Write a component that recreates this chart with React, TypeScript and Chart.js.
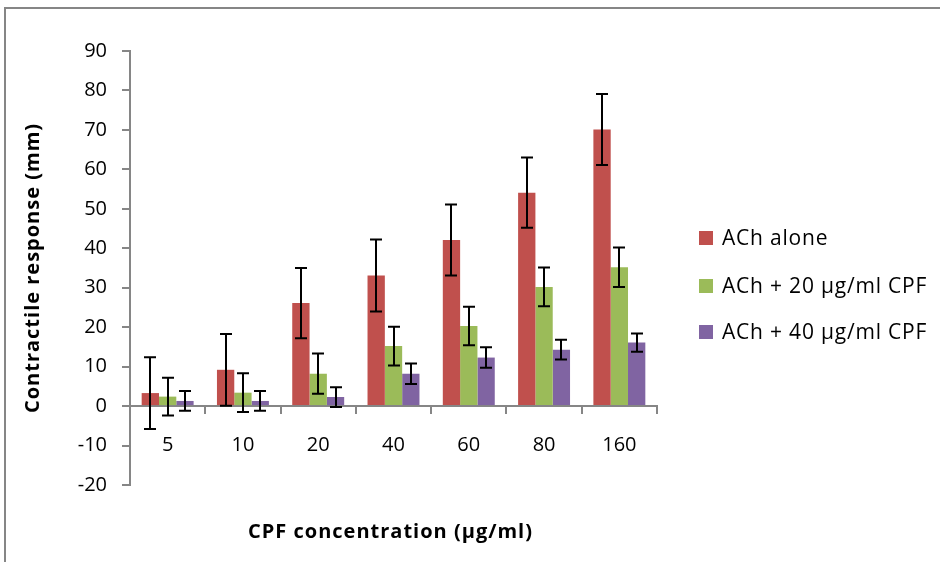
import React, { useEffect, useRef } from "react";
import { Chart, registerables } from "chart.js";
Chart.register(...registerables);

const categories = ["5", "10", "20", "40", "60", "80", "160"];
const seriesNames = ["ACh alone", "ACh + 20 µg/ml CPF", "ACh + 40 µg/ml CPF"];
const seriesColors = ["#C0504D", "#9BBB59", "#8064A2"];
const achAlone = [3.3, 9.2, 26.1, 33.1, 42.1, 54.1, 70.1];
const achAloneErr = [9.1, 9.1, 8.9, 9.1, 9.0, 8.9, 9.0];
const ach20 = [2.4, 3.4, 8.2, 15.2, 20.3, 30.2, 35.2];
const ach20Err = [4.8, 4.9, 5.1, 4.9, 4.9, 4.9, 5.0];
const ach40 = [1.3, 1.3, 2.3, 8.2, 12.3, 14.3, 16.1];
const ach40Err = [2.5, 2.5, 2.5, 2.6, 2.6, 2.5, 2.3];
const yMin = -20;
const yMax = 90;
const yStep = 10;
const xTitle = "CPF concentration (µg/ml)";
const yTitle = "Contractile response (mm)";

const FONT = "'Open Sans', 'Liberation Sans', Arial, sans-serif";

const errorBarsPlugin = {
  id: "errorBars",
  afterDatasetsDraw(chart: any) {
    const ctx = chart.ctx;
    const yScale = chart.scales.y;
    ctx.save();
    ctx.strokeStyle = "#000";
    ctx.lineWidth = 2;
    chart.data.datasets.forEach((ds: any, di: number) => {
      const meta = chart.getDatasetMeta(di);
      meta.data.forEach((bar: any, i: number) => {
        const v = ds.data[i];
        const e = ds.errors[i];
        const x = Math.round(bar.x);
        const yt = yScale.getPixelForValue(v + e);
        const yb = yScale.getPixelForValue(v - e);
        const cap = 6;
        ctx.beginPath();
        ctx.moveTo(x, yt);
        ctx.lineTo(x, yb);
        ctx.moveTo(x - cap, yt);
        ctx.lineTo(x + cap, yt);
        ctx.moveTo(x - cap, yb);
        ctx.lineTo(x + cap, yb);
        ctx.stroke();
      });
    });
    ctx.restore();
  },
};

const extrasPlugin = {
  id: "extras",
  afterDraw(chart: any) {
    const ctx = chart.ctx;
    const area = chart.chartArea;
    ctx.save();
    ctx.fillStyle = "#000";
    ctx.font = `bold 20px ${FONT}`;
    ctx.textAlign = "center";
    ctx.textBaseline = "middle";
    (ctx as any).letterSpacing = "1px";
    // x axis title
    ctx.fillText(xTitle, (area.left + area.right) / 2 - 3, 532);
    // y axis title
    ctx.save();
    ctx.translate(33, (area.top + area.bottom) / 2);
    ctx.rotate(-Math.PI / 2);
    ctx.fillText(yTitle, 0, 0);
    ctx.restore();
    // legend
    const lx = area.right + 42;
    const ys = [238, 286, 332];
    ctx.font = `21px ${FONT}`;
    ctx.textAlign = "left";
    (ctx as any).letterSpacing = "0.8px";
    seriesNames.forEach((name, i) => {
      ctx.fillStyle = seriesColors[i];
      ctx.fillRect(lx, ys[i] - 7, 14, 14);
      ctx.fillStyle = "#000";
      ctx.fillText(name, lx + 23, ys[i] + 1);
    });
    ctx.restore();
  },
};

export default function App() {
  const ref = useRef<HTMLCanvasElement | null>(null);
  useEffect(() => {
    if (!ref.current) return;
    const mk = (label: string, data: number[], errors: number[], color: string) => ({
      label,
      data,
      errors,
      backgroundColor: color,
      borderWidth: 0,
      categoryPercentage: 0.69,
      barPercentage: 1.0,
    });
    const chart = new Chart(ref.current, {
      type: "bar",
      data: {
        labels: categories,
        datasets: [
          mk(seriesNames[0], achAlone, achAloneErr, seriesColors[0]),
          mk(seriesNames[1], ach20, ach20Err, seriesColors[1]),
          mk(seriesNames[2], ach40, ach40Err, seriesColors[2]),
        ] as any,
      },
      options: {
        animation: false,
        responsive: false,
        devicePixelRatio: 1,
        layout: { padding: { left: 20, right: 283, top: 51, bottom: 77 } },
        plugins: {
          legend: { display: false },
          tooltip: { enabled: false },
        },
        scales: {
          x: {
            position: { y: 0 } as any,
            offset: true,
            grid: {
              offset: true,
              drawOnChartArea: false,
              drawTicks: true,
              tickLength: 7,
              color: "#868686",
              lineWidth: 2,
            },
            border: { display: true, color: "#868686", width: 2 },
            ticks: {
              color: "#000",
              font: { family: FONT, size: 20 },
              padding: 20,
              maxRotation: 0,
              autoSkip: false,
            },
          },
          y: {
            min: yMin,
            max: yMax,
            afterFit: (s: any) => {
              s.width = 110;
            },
            grid: {
              drawOnChartArea: false,
              drawTicks: true,
              tickLength: 8,
              color: "#868686",
              lineWidth: 2,
            },
            border: { display: true, color: "#868686", width: 2 },
            ticks: {
              stepSize: yStep,
              color: "#000",
              font: { family: FONT, size: 20 },
              padding: 15,
            },
            title: { display: false },
          },
        },
      },
      plugins: [errorBarsPlugin, extrasPlugin],
    });
    return () => chart.destroy();
  }, []);
  return (
    <div style={{ position: "absolute", left: 0, top: 0, width: 940, height: 562, overflow: "hidden", background: "#fff" }}>
      <div
        style={{
          position: "absolute",
          left: 4,
          top: 7,
          width: 1000,
          height: 700,
          border: "2px solid #868686",
        }}
      />
      <canvas ref={ref} width={940} height={562} style={{ position: "absolute", left: 0, top: 0, width: 940, height: 562 }} />
    </div>
  );
}
